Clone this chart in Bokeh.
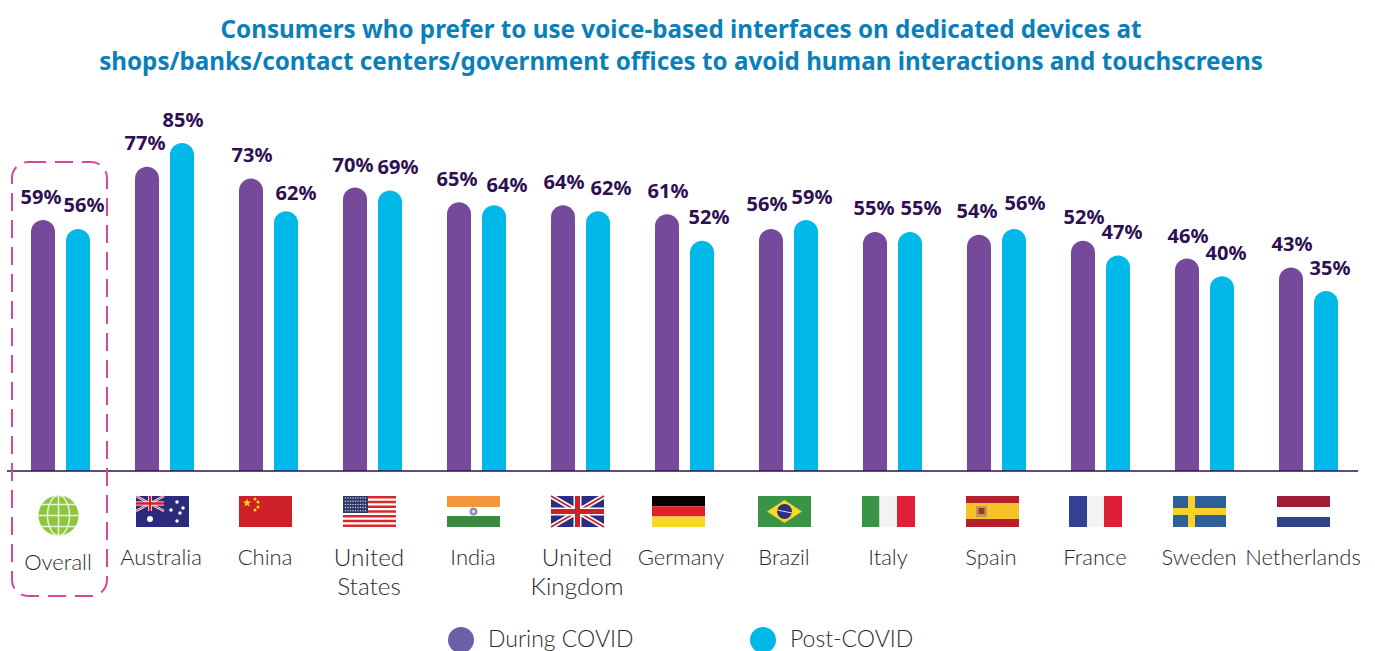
from bokeh.plotting import figure
from bokeh.models import Range1d, ColumnDataSource
from bokeh.core.properties import value
from bokeh.embed import file_html
from bokeh.resources import INLINE

# ---------- data ----------
countries = ["Overall", "Australia", "China", "United States", "India", "United Kingdom", "Germany",
             "Brazil", "Italy", "Spain", "France", "Sweden", "Netherlands"]
during_covid = [59, 77, 73, 70, 65, 64, 61, 56, 55, 54, 52, 46, 43]
post_covid = [56, 85, 62, 69, 64, 62, 52, 59, 55, 56, 47, 40, 35]
title_lines = ["Consumers who prefer to use voice-based interfaces on dedicated devices at",
               "shops/banks/contact centers/government offices to avoid human interactions and touchscreens"]
series_names = ["During COVID", "Post-COVID"]

# ---------- layout / style ----------
W, H = 1375, 651
PITCH = 104
C0 = 60
DODGE = 17.5 / PITCH
BAR_W = 24 / PITCH
BASE = -25.8
PX_PER_UNIT = 2.96
PURPLE, CYAN = "#764A9B", "#00B9E8"
LABEL = "#2E0F52"
TITLE = "#0A80BA"
TEXT = "#2B2B2B"
TITLE_FONT = "Noto Sans"
LABEL_FONT = "Noto Sans"
CAT_FONT = "Lato Light"
dx_during = [-2, -2, 1, -2, -2, 1, 1, -4, -1, -2, 1, 1, 1]
dx_post = [6, 1, 10, 8, 13, 13, 7, 6, 11, 11, 4, 4, 4]
dy_during = [-24, -24, -24, -23, -24, -24, -24, -25, -24, -24, -24, -23, -24]
dy_post = [-24, -24, -19, -24, -21, -24, -24, -24, -24, -26, -24, -24, -24]
cat_center = [58, 161, 265, 369, 473, 577, 681, 784, 888, 991, 1095, 1199, 1303]
flag_left = [None, 136, 239, 343, 447, 551, 652, 758, 862, 966, 1069, 1173, 1277]

x0 = -C0 / PITCH
x1 = (W - C0) / PITCH
y_top = 85 + 142.6 / PX_PER_UNIT
y_bot = 85 - (H - 142.6) / PX_PER_UNIT

p = figure(width=W, height=H, output_backend="svg", toolbar_location=None,
           x_range=Range1d(x0, x1), y_range=Range1d(y_bot, y_top),
           min_border=0, outline_line_color=None, background_fill_color="white",
           border_fill_color="white")
p.axis.visible = False
p.grid.visible = False
# page-pixel ranges for decoration (title, flags, legend)
p.extra_x_ranges = {"px": Range1d(0.5, W + 0.5)}
p.extra_y_ranges = {"px": Range1d(H + 0.5, 0.5)}
PX = dict(x_range_name="px", y_range_name="px")

idx = list(range(len(countries)))

# bars
for vals, sign, col in ((during_covid, -1, PURPLE), (post_covid, 1, CYAN)):
    p.vbar(x=[i + sign * DODGE for i in idx], top=vals, bottom=BASE, width=BAR_W,
           fill_color=col, line_color=None, border_radius=(12, 12, 0, 0))

# value labels
for vals, sign, dxs, dys in ((during_covid, -1, dx_during, dy_during), (post_covid, 1, dx_post, dy_post)):
    src = ColumnDataSource(dict(x=[i + sign * DODGE for i in idx], y=vals,
                                t=[f"{v}%" for v in vals], dx=dxs, dy=dys))
    p.text(x="x", y="y", text="t", x_offset="dx", y_offset="dy", source=src, text_align="center",
           text_baseline="middle", text_font=value(LABEL_FONT), text_font_size="20px",
           text_font_style="bold", text_color=LABEL)

# baseline
p.line([7, 1358], [471, 471], line_color=LABEL, line_width=1.6, **PX)

# title
p.text(x=[681, 681], y=[28, 60], text=title_lines, text_align="center", text_baseline="middle",
       text_font=value(TITLE_FONT), text_font_size="24.2px", text_font_style="bold",
       text_color=TITLE, **PX)

# overall dashed box
p.quad(left=[12], right=[107], top=[162], bottom=[596], fill_color=None, line_color="#D5489A",
       line_width=2, line_dash="18 9", border_radius=16, **PX)

# category labels
for name, cx in zip(countries, cat_center):
    words = name.split(" ")
    if name == "Overall":
        rows, size = [(name, 561)], "22px"
    elif len(words) == 2:
        rows, size = [(words[0], 556), (words[1], 585)], "24.3px"
    else:
        rows, size = [(name, 556)], "22px"
    p.text(x=[cx] * len(rows), y=[r[1] for r in rows], text=[r[0] for r in rows],
           text_align="center", text_baseline="middle", text_font=value(CAT_FONT),
           text_font_size=size, text_color=TEXT, **PX)

# ---------- flags (decorative) ----------
FT, FB, FW = 496, 527, 53


def box(l, r, t, b, c):
    p.quad(left=[l], right=[r], top=[t], bottom=[b], fill_color=c, line_color=None, **PX)


def seg(xs, ys, c, w):
    p.line(xs, ys, line_color=c, line_width=w, line_cap="butt", **PX)


def dots(xs, ys, c, s, marker="circle"):
    p.scatter(xs, ys, marker=marker, size=s, fill_color=c, line_color=None, **PX)


def jack(l, t, w, h):
    r, b = l + w, t + h
    mx, my = l + w / 2, t + h / 2
    k = h / 31
    seg([l, r], [t, b], "white", 5 * k); seg([l, r], [b, t], "white", 5 * k)
    seg([l, r], [t, b], "#CE2029", 1.8 * k); seg([l, r], [b, t], "#CE2029", 1.8 * k)
    seg([mx, mx], [t, b], "white", 8 * k); seg([l, r], [my, my], "white", 8 * k)
    seg([mx, mx], [t, b], "#CE2029", 5 * k); seg([l, r], [my, my], "#CE2029", 5 * k)


# Australia
l = flag_left[1]
box(l, l + FW, FT, FB, "#2B2A7C")
jack(l, FT, 28, 15)
dots([l + 14], [FT + 23], "white", 6)
dots([l + 41, l + 35, l + 47, l + 41, l + 44], [FT + 6, FT + 14, FT + 12, FT + 25, FT + 17], "white", 3.5)

# China
l = flag_left[2]
box(l, l + FW, FT, FB, "#CE2029")
dots([l + 8], [FT + 7], "#F9DD16", 9, "star")
dots([l + 16, l + 19, l + 19, l + 16], [FT + 3, FT + 6, FT + 11, FT + 14], "#F9DD16", 3)

# United States
l = flag_left[3]
box(l, l + FW, FT, FB, "white")
for k in range(7):
    t = FT + k * 31 / 6.5
    box(l, l + FW, t, t + 2.4, "#D5282F")
box(l, l + 25, FT, FT + 17, "#2C3766")
for row in range(5):
    dots([l + 2.5 + 2.5 * c for c in range(9)], [FT + 2 + 3.2 * row] * 9, "#C9CFDC", 1.5)

# India
l = flag_left[4]
box(l, l + FW, FT, FT + 11, "#F3963C")
box(l, l + FW, FT + 20, FB, "#3B8A42")
dots([l + FW / 2], [FT + 15.5], "#8C8CC0", 8)
dots([l + FW / 2], [FT + 15.5], "#DADAEC", 3.5)

# United Kingdom
l = flag_left[5]
box(l, l + FW, FT, FB, "#2B2E7E")
jack(l, FT, FW, 31)

# Germany
l = flag_left[6]
box(l, l + FW, FT, FT + 10.3, "#000000")
box(l, l + FW, FT + 10.3, FT + 20.6, "#E1212B")
box(l, l + FW, FT + 20.6, FB, "#F6D925")

# Brazil
l = flag_left[7]
box(l, l + FW, FT, FB, "#3A9448")
p.patch([l + 9, l + FW / 2, l + FW - 9, l + FW / 2], [FT + 15.5, FT + 4, FT + 15.5, FT + 27],
        fill_color="#F6D925", line_color=None, **PX)
dots([l + FW / 2], [FT + 15.5], "#2F2F7E", 15)
seg([l + 19, l + 34], [FT + 14, FT + 17], "#DADAEC", 1)

# Italy
l = flag_left[8]
box(l, l + 17.5, FT, FB, "#3A9448")
box(l + 17.5, l + 35, FT, FB, "#F3F3F3")
box(l + 35, l + FW, FT, FB, "#DF2037")

# Spain
l = flag_left[9]
box(l, l + FW, FT, FB, "#B5202C")
box(l, l + FW, FT + 7, FT + 23, "#F4C427")
dots([l + 15.5], [FT + 15.5], "#C9935A", 11, "square")
dots([l + 15.5], [FT + 15], "#A0342A", 6, "square")

# France
l = flag_left[10]
box(l, l + 18, FT, FB, "#334193")
box(l + 18, l + 35, FT, FB, "#F3F3F3")
box(l + 35, l + FW, FT, FB, "#DD1F36")

# Sweden
l = flag_left[11]
box(l, l + FW, FT, FB, "#2E5F98")
box(l + 15, l + 22, FT, FB, "#F6D22B")
box(l, l + FW, FT + 12, FT + 19, "#F6D22B")

# Netherlands
l = flag_left[12]
box(l, l + FW, FT, FT + 11, "#A11D33")
box(l, l + FW, FT + 21, FB, "#2F4488")

# globe
GX, GY, GR = 58.5, 515.5, 20
GLOBE, GL = "#8CC63F", "#EAF5D8"
p.ellipse([GX], [GY], width=2 * GR, height=2 * GR, fill_color=GLOBE, line_color=None, **PX)
p.ellipse([GX], [GY], width=22, height=2 * GR, fill_color=None, line_color=GL, line_width=1.5, **PX)
seg([GX, GX], [GY - GR, GY + GR], GL, 1.5)
seg([GX - GR, GX + GR], [GY, GY], GL, 1.5)
seg([GX - 16.5, GX + 16.5], [GY - 11, GY - 11], GL, 1.5)
seg([GX - 16.5, GX + 16.5], [GY + 11, GY + 11], GL, 1.5)

# legend
for cx, col, tx, name in ((461, "#6C5FA8", 488, series_names[0]), (763, CYAN, 790, series_names[1])):
    p.ellipse([cx], [640], width=26, height=26, fill_color=col, line_color=None, **PX)
    p.text(x=[tx], y=[638], text=[name], text_align="left", text_baseline="middle",
           text_font=value(CAT_FONT), text_font_size="23px", text_color=TEXT, **PX)

open("out.html", "w").write(file_html(p, INLINE))
